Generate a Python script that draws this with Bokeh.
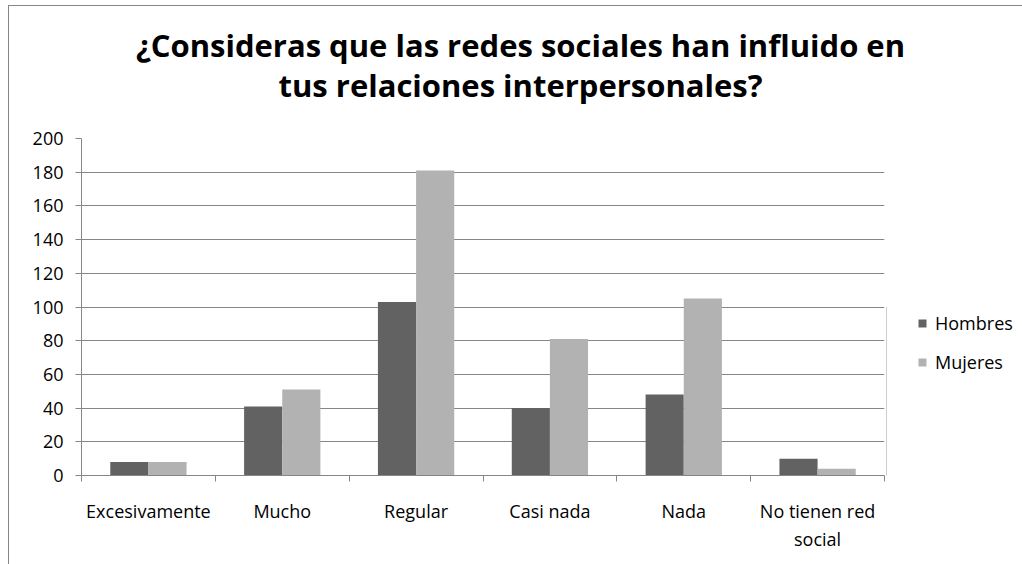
from bokeh.plotting import figure
from bokeh.models import Range1d, FixedTicker, Legend, LegendItem
from bokeh.layouts import column, row
from bokeh.core.properties import value
from bokeh.embed import file_html
from bokeh.resources import INLINE
import numpy as np

categories = ["Excesivamente", "Mucho", "Regular", "Casi nada", "Nada", "No tienen red\nsocial"]
hombres = [8, 41, 103, 40, 48, 10]
mujeres = [8, 51, 181, 81, 105, 4]
series_names = ["Hombres", "Mujeres"]
series_colors = ["#626262", "#b2b2b2"]
y_ticks = [0, 20, 40, 60, 80, 100, 120, 140, 160, 180, 200]
title_lines = ["¿Consideras que las redes sociales han influido en",
               "tus relaciones interpersonales?"]

FONT = "Open Sans"


def bare(fig):
    fig.outline_line_color = None
    fig.grid.visible = False
    return fig


# ---- title strip ----
pt = bare(figure(width=1013, height=118, output_backend="svg", toolbar_location=None,
                 x_range=Range1d(0, 1013), y_range=Range1d(0, 118),
                 x_axis_location=None, y_axis_location=None, min_border=0))
pt.text(x=[511, 511], y=[80, 40], text=title_lines, text_align="center",
        text_baseline="alphabetic", text_font=value(FONT), text_font_size="31px",
        text_font_style="bold", text_color="black")

# ---- main chart ----
p = figure(width=877, height=440, output_backend="svg", toolbar_location=None,
           x_range=Range1d(0, len(categories)), y_range=Range1d(0, 200),
           min_border_left=72, min_border_right=2, min_border_top=14, min_border_bottom=89)
p.outline_line_color = None

centers = np.arange(len(categories)) + 0.5
bw = 0.285
p.vbar(x=centers - 0.1425, top=hombres, width=bw, fill_color=series_colors[0], line_color=None)
p.vbar(x=centers + 0.1425, top=mujeres, width=bw, fill_color=series_colors[1], line_color=None)

p.xgrid.grid_line_color = None
p.ygrid.grid_line_color = "#868686"
p.ygrid.ticker = FixedTicker(ticks=y_ticks)

p.yaxis.ticker = FixedTicker(ticks=y_ticks)
p.yaxis.axis_line_color = "#868686"
p.yaxis.major_tick_line_color = "#868686"
p.yaxis.major_tick_out = 6
p.yaxis.major_tick_in = 0
p.yaxis.minor_tick_line_color = None
p.yaxis.major_label_text_font = FONT
p.yaxis.major_label_text_font_size = "18px"
p.yaxis.major_label_text_color = "black"
p.yaxis.major_label_standoff = 12

p.xaxis.ticker = FixedTicker(ticks=list(centers), minor_ticks=list(range(len(categories) + 1)))
p.xaxis.major_label_overrides = {float(c): cat for c, cat in zip(centers, categories)}
p.xaxis.axis_line_color = "#868686"
p.xaxis.major_tick_line_color = None
p.xaxis.minor_tick_line_color = "#868686"
p.xaxis.minor_tick_out = 6
p.xaxis.minor_tick_in = 0
p.xaxis.major_label_text_font = FONT
p.xaxis.major_label_text_font_size = "18px"
p.xaxis.major_label_text_color = "black"
p.xaxis.major_label_standoff = 17

# ---- legend strip (swatches drawn off-range; only the legend shows) ----
pl = bare(figure(width=136, height=440, output_backend="svg", toolbar_location=None,
                 x_range=Range1d(0, 1), y_range=Range1d(0, 1),
                 x_axis_location=None, y_axis_location=None, min_border=0))
items = []
for name, col in zip(series_names, series_colors):
    r = pl.vbar(x=[-5.0], top=[0.5], width=0.1, fill_color=col, line_color=None)
    items.append(LegendItem(label=name, renderers=[r]))
legend = Legend(items=items, location=(31, 101), orientation="vertical",
                glyph_width=10, glyph_height=10, label_standoff=8,
                label_height=20, spacing=15, padding=0, margin=0,
                border_line_color=None, background_fill_alpha=0,
                label_text_font=FONT, label_text_font_size="18px", label_text_color="black")
pl.add_layout(legend, "center")

layout = column(pt, row(p, pl, spacing=0), spacing=0)
layout.styles = {"margin-left": "8px", "margin-top": "5px",
                 "border-top": "1px solid #868686", "border-left": "1px solid #868686"}

open("out.html", "w").write(file_html(layout, INLINE))
